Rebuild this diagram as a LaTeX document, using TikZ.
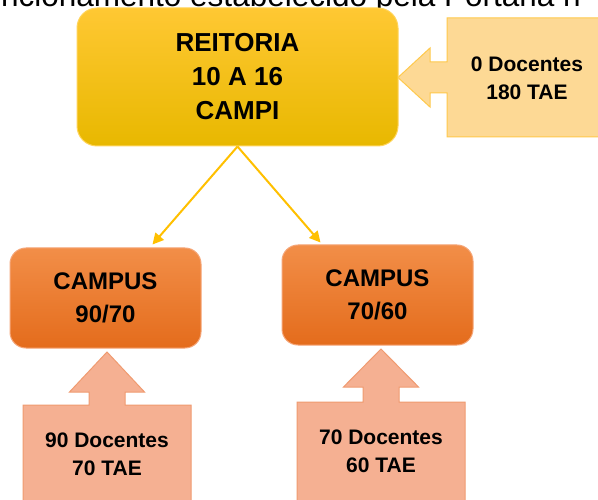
\documentclass[tikz,border=0pt]{standalone}
\usepackage{fontspec}
\setmainfont{Liberation Sans}
\usetikzlibrary{arrows.meta,positioning}
\definecolor{reittop}{HTML}{FFC833}
\definecolor{reitmid}{HTML}{FFC000}
\definecolor{reitbot}{HTML}{E8B800}
\definecolor{reitline}{HTML}{FFD45A}
\definecolor{camptop}{HTML}{F28E48}
\definecolor{campmid}{HTML}{F07C2C}
\definecolor{campbot}{HTML}{E46C1C}
\definecolor{campline}{HTML}{F5A577}
\definecolor{paleyel}{HTML}{FDD995}
\definecolor{paleyelline}{HTML}{FFC94C}
\definecolor{salmon}{HTML}{F5B092}
\definecolor{salmonline}{HTML}{F09B70}
\definecolor{linkcol}{HTML}{FFC000}

\begin{document}
\begin{tikzpicture}[x=1pt,y=-1pt,
   reitbox/.style={draw=reitline,line width=1pt,rounded corners=20pt,
             top color=reittop,middle color=reitmid,bottom color=reitbot,
             align=center,inner sep=0pt,font=\bfseries\fontsize{26}{34}\selectfont},
   campbox/.style={draw=campline,line width=1pt,rounded corners=16pt,
             top color=camptop,middle color=campmid,bottom color=campbot,
             minimum width=191pt,minimum height=100pt,
             align=center,inner sep=0pt,font=\bfseries\fontsize{24}{33}\selectfont},
   qtext/.style={align=center,inner sep=0pt,font=\bfseries\fontsize{21}{28}\selectfont},
   link/.style={draw=linkcol,line width=2pt,-{Triangle[length=11pt,width=11pt]}}]
  \useasboundingbox (0,0) rectangle (598,500);
  \clip (0,0) rectangle (598,500);
  \fill[white] (0,0) rectangle (598,500);

  % text line cut by the page edge
  \node[anchor=base east,inner sep=0pt,font=\fontsize{31.5}{31.5}\selectfont] (cap) at (581,7)
       {ncionamento estabelecido pela Portaria n};

  % callout shapes
  \filldraw[fill=paleyel,draw=paleyelline,line width=1pt]
    (612,18) -- (447,18) -- (447,62) -- (430,62) -- (430,48) -- (398,77.5)
    -- (430,107) -- (430,93) -- (447,93) -- (447,137) -- (612,137) -- cycle;
  \filldraw[fill=salmon,draw=salmonline,line width=1pt]
    (23,512) -- (23,405) -- (89,405) -- (89,392) -- (69.5,392) -- (107,352)
    -- (144.5,392) -- (125,392) -- (125,405) -- (191,405) -- (191,512) -- cycle;
  \filldraw[fill=salmon,draw=salmonline,line width=1pt]
    (297,512) -- (297,402) -- (363,402) -- (363,387) -- (343.5,387) -- (381,349)
    -- (418.5,387) -- (399,387) -- (399,402) -- (465,402) -- (465,512) -- cycle;

  \node[reitbox,minimum width=321pt,minimum height=138pt] (reit) at (237.5,77)
       {REITORIA\\10 A 16\\CAMPI};
  \node[campbox] (camp1) at (105.5,298) {CAMPUS\\90/70};
  \node[campbox] (camp2) at (377.5,295) {CAMPUS\\70/60};

  \node[qtext] (qreit) at (527,78) {0 Docentes\\180 TAE};
  \node[qtext] (qcamp1) at (107,454) {90 Docentes\\70 TAE};
  \node[qtext] (qcamp2) at (381,451) {70 Docentes\\60 TAE};

  \draw[link] (reit.south) -- ([xshift=47pt,yshift=3pt]camp1.north);
  \draw[link] (reit.south) -- ([xshift=-57pt,yshift=2pt]camp2.north);
\end{tikzpicture}
\end{document}
